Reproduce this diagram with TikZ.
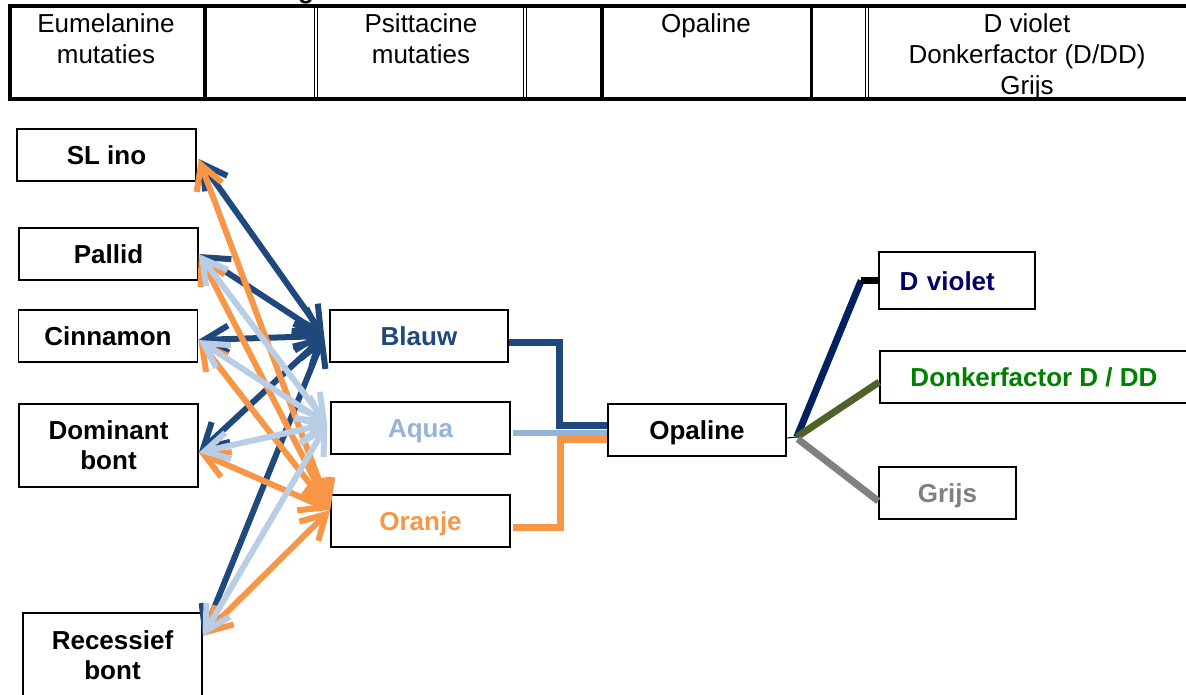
\documentclass[tikz,border=0pt]{standalone}
\usepackage{fontspec}
\setmainfont{Liberation Sans}
\usetikzlibrary{calc,arrows.meta}

\definecolor{kleurblauw}{RGB}{31,73,125}
\definecolor{kleuraqua}{RGB}{185,205,229}
\definecolor{tekstaqua}{RGB}{149,179,215}
\definecolor{kleuroranje}{RGB}{247,150,70}
\definecolor{tekstviolet}{RGB}{0,0,102}
\definecolor{lijnviolet}{RGB}{0,32,96}
\definecolor{tekstgroen}{RGB}{0,128,0}
\definecolor{lijnolijf}{RGB}{79,98,40}
\definecolor{kleurgrijs}{RGB}{128,128,128}

\begin{document}
\begin{tikzpicture}[x=1pt,y=-1pt,
	box/.style={draw,line width=1.6pt,minimum width=179pt,minimum height=52pt,inner sep=0pt,align=center,font=\fontsize{26}{30}\selectfont\bfseries},
	een/.style={text height=19pt,text depth=0pt},
	cel/.style={anchor=north,inner sep=0pt,align=center,font=\fontsize{26}{31}\selectfont},
	pijl/.style={line width=6pt,line cap=round,line join=round,{Straight Barb[length=24pt,width=27pt,line width=6pt]}-{Straight Barb[length=24pt,width=27pt,line width=6pt]}},
	tak/.style={line width=7pt}]
	\useasboundingbox (0,0) rectangle (1186,695);
	
	%table
	\draw[line width=4pt] (7.5,6) -- (1190,6);
	\draw[line width=4pt] (7.5,99.5) -- (1190,99.5);
	\draw[line width=4pt] (9.5,4) -- (9.5,101.5);
	\foreach \x in {205,602,811.5}{
		\draw[line width=3.5pt] (\x,6) -- (\x,99.5);
	}
	\foreach \x in {316,525,867}{
		\draw[line width=1.2pt] (\x-1.8,6) -- (\x-1.8,99.5);
		\draw[line width=1.2pt] (\x+1.8,6) -- (\x+1.8,99.5);
	}
	\node[anchor=base,inner sep=0pt,font=\fontsize{26}{30}\selectfont\bfseries] (titel) at (306,-1) {g};
	\node[cel] (c1) at (106,13) {Eumelanine\\mutaties};
	\node[cel] (c3) at (421,13) {Psittacine\\mutaties};
	\node[cel] (c5) at (706,13) {Opaline};
	\node[cel] (c7) at (1027,13) {D violet\\Donkerfactor (D/DD)\\Grijs};
	
	%eumelanine
	\node[box,een] (slino) at (106.5,155) {SL ino};
	\node[box,een] (pallid) at (108.5,254) {Pallid};
	\node[box,een] (cinnamon) at (108,336) {Cinnamon};
	\node[box,minimum height=83pt] (dombont) at (108.5,445.5) {Dominant\\bont};
	\node[box,minimum height=84pt] (recbont) at (112.5,655) {Recessief\\bont};
	
	%psittacine
	\node[box,een,minimum width=178pt,text=kleurblauw] (blauw) at (419,336) {Blauw};
	\node[box,een,text=tekstaqua] (aqua) at (420.5,428) {Aqua};
	\node[box,een,text=kleuroranje] (oranje) at (420.5,521) {Oranje};
	
	%opaline
	\node[box,een,minimum width=178pt] (opaline) at (697,430) {Opaline};
	
	%factoren
	\node[box,een,minimum width=156pt,minimum height=57pt,text width=115pt,align=left,text=tekstviolet] (dviolet) at (957,280.5) {D violet};
	\node[box,een,minimum width=308pt,text=tekstgroen] (donker) at (1034,377) {Donkerfactor D / DD};
	\node[box,een,minimum width=137pt,text=kleurgrijs] (grijs) at (947.5,493) {Grijs};
	
	%arrow ends
	\foreach \n/\dx/\dy in {slino/2/-4,pallid/0/0,cinnamon/0/-4,dombont/0/-7,recbont/0/19}{
		\coordinate (\n-p) at ([xshift=\dx pt,yshift=\dy pt]\n.east);
	}
	\coordinate (blauw-p) at ([xshift=-5pt]blauw.west);
	\coordinate (aqua-p) at ([xshift=-3pt,yshift=4pt]aqua.west);
	\coordinate (oranje-p) at ([yshift=11pt]oranje.west);
	
	\foreach \n in {slino,pallid,cinnamon,dombont,recbont}{
		\draw[pijl,kleurblauw] (\n-p) -- (blauw-p);
	}
	\foreach \n in {slino,pallid,cinnamon,dombont,recbont}{
		\draw[pijl,kleuroranje] (\n-p) -- (oranje-p);
	}
	\foreach \n in {pallid,cinnamon,dombont,recbont}{
		\draw[pijl,kleuraqua] (\n-p) -- (aqua-p);
	}
	
	%naar opaline
	\draw[tak,kleurblauw] ([yshift=-6pt]blauw.east) -| (559,425) -- ([yshift=5pt]opaline.west);
	\draw[line width=6pt,tekstaqua] ([xshift=2pt,yshift=-5pt]aqua.east) -- ([yshift=-3pt]opaline.west);
	\draw[tak,kleuroranje] ([xshift=2pt,yshift=-6pt]oranje.east) -| (560,439) -- ([yshift=-9pt]opaline.west);
	
	%vanuit opaline
	\coordinate (knoop) at ($(opaline.east)+(10,7)$);
	\coordinate (hoek) at ($(dviolet.west)+(-17,0)$);
	\draw[line width=1pt] ([yshift=-8pt]opaline.east) -- (knoop);
	\draw[tak,lijnviolet] (knoop) -- (hoek);
	\draw[tak,black] (hoek) -- (dviolet.west);
	\draw[tak,lijnolijf] (knoop) -- ([yshift=-5pt]donker.west);
	\draw[tak,kleurgrijs] ([xshift=1pt,yshift=-2pt]knoop) -- ([yshift=-8pt]grijs.west);
\end{tikzpicture}
\end{document}
